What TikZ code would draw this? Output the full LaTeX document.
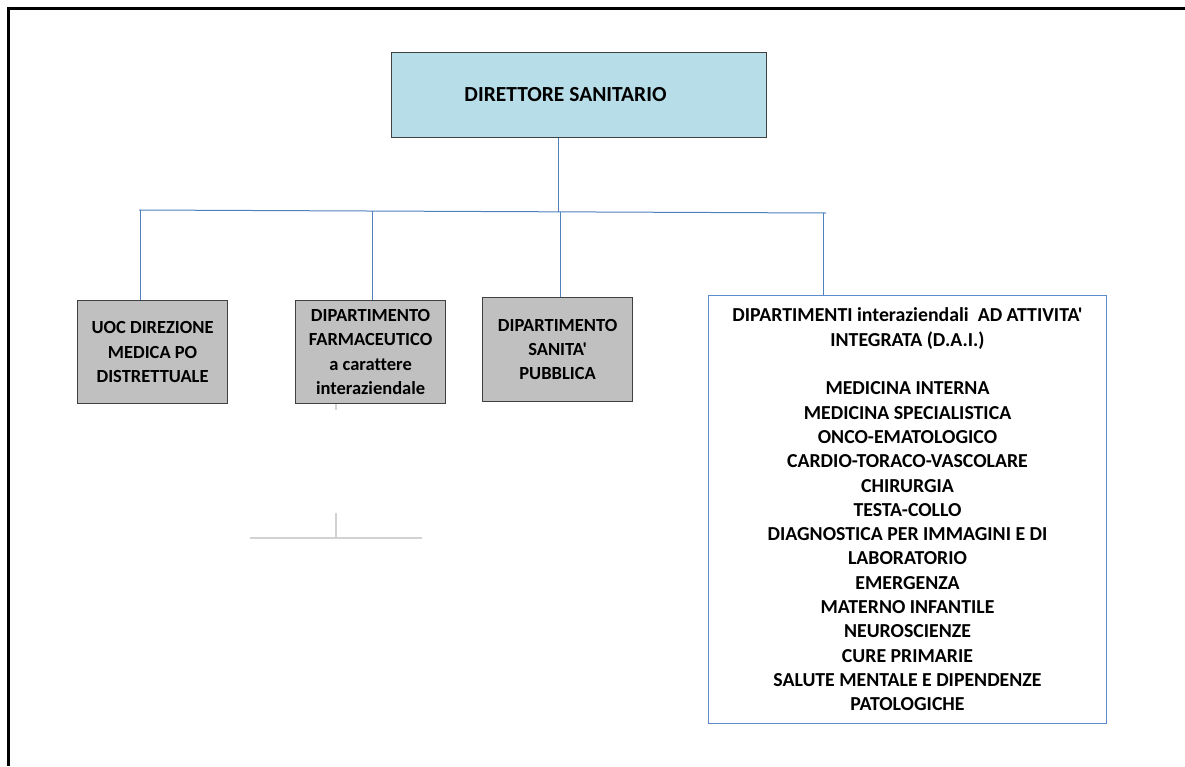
\documentclass[tikz,border=0pt]{standalone}
\usepackage{fontspec}
\newfontfamily\calfont{Carlito}[Ligatures=NoCommon]
\definecolor{topfill}{RGB}{183,221,232}
\definecolor{boxgray}{RGB}{192,192,192}
\definecolor{linkblue}{RGB}{79,129,189}
\definecolor{dai}{RGB}{91,140,205}
\definecolor{ghost}{RGB}{210,210,210}
\tikzset{
  txt/.style={font=\calfont\bfseries\fontsize{18.5}{24.3}\selectfont, align=center, inner sep=0pt},
  topbox/.style={font=\calfont\bfseries\fontsize{21.5}{26}\selectfont, inner sep=0pt, draw=black!75, line width=1pt, fill=topfill, anchor=north west},
  graybox/.style={txt, draw=black!75, line width=1.2pt, fill=boxgray, anchor=north west},
  daibox/.style={txt, font=\calfont\bfseries\fontsize{19.8}{24.3}\selectfont, draw=dai, line width=1pt, fill=white, anchor=north west},
  link/.style={draw=linkblue, line width=1pt},
  ghostline/.style={draw=ghost, line width=1.2pt},
  frame/.style={draw=black, line width=2.2pt}
}
\begin{document}
\begin{tikzpicture}[x=1pt,y=-1pt]
\useasboundingbox (0,0) rectangle (1185,766);
\fill[white] (0,0) rectangle (1185,766);
% frame
\coordinate (fTL) at (8.5,8.5);
\coordinate (fTR) at (1185,8.5);
\coordinate (fBL) at (8.5,766);
\draw[frame] (fTR) -- (fTL) -- (fBL);

% nodes
\node[topbox, minimum width=375pt, minimum height=85pt] (top) at (391,52) {DIRETTORE SANITARIO\hspace*{27pt}};
\node[graybox, minimum width=150pt, minimum height=103pt] (b1) at (77,300) {UOC DIREZIONE\\MEDICA PO\\DISTRETTUALE};
\node[graybox, minimum width=150pt, minimum height=103pt] (b2) at (295,300) {DIPARTIMENTO\\FARMACEUTICO\\a carattere\\interaziendale};
\node[graybox, minimum width=150pt, minimum height=104pt] (b3) at (482,297) {DIPARTIMENTO\\SANITA'\\PUBBLICA};
\node[daibox, minimum width=398pt, minimum height=428pt] (b4) at (708,295) {DIPARTIMENTI interaziendali~~AD ATTIVITA'\\INTEGRATA (D.A.I.)\\[24.3pt]MEDICINA INTERNA\\MEDICINA SPECIALISTICA\\ONCO-EMATOLOGICO\\CARDIO-TORACO-VASCOLARE\\CHIRURGIA\\TESTA-COLLO\\DIAGNOSTICA PER IMMAGINI E DI\\LABORATORIO\\EMERGENZA\\MATERNO INFANTILE\\NEUROSCIENZE\\CURE PRIMARIE\\SALUTE MENTALE E DIPENDENZE\\PATOLOGICHE};

% bus coordinates
\coordinate (bL) at (139,210);
\coordinate (bR) at (826,213);
\coordinate (j0) at (558,211.5);
\coordinate (j1) at (140,210);
\coordinate (j2) at (372,211);
\coordinate (j3) at (560,211.5);
\coordinate (j4) at (823,213);

\draw[link] (top.south -| j0) -- (j0);
\draw[link] (bL) -- (bR);
\draw[link] (j1) -- (j1 |- b1.north);
\draw[link] (j2) -- (j2 |- b2.north);
\draw[link] (j3) -- (j3 |- b3.north);
\draw[link] (j4) -- (j4 |- b4.north);

% ghost lines
\coordinate (g0) at (336,410);
\coordinate (g1) at (336,513);
\coordinate (g2) at (336,538);
\coordinate (gL) at (250,538);
\coordinate (gR) at (422,538);
\draw[ghostline] (b2.south -| g0) -- (g0);
\draw[ghostline] (g1) -- (g2);
\draw[ghostline] (gL) -- (gR);
\end{tikzpicture}
\end{document}
